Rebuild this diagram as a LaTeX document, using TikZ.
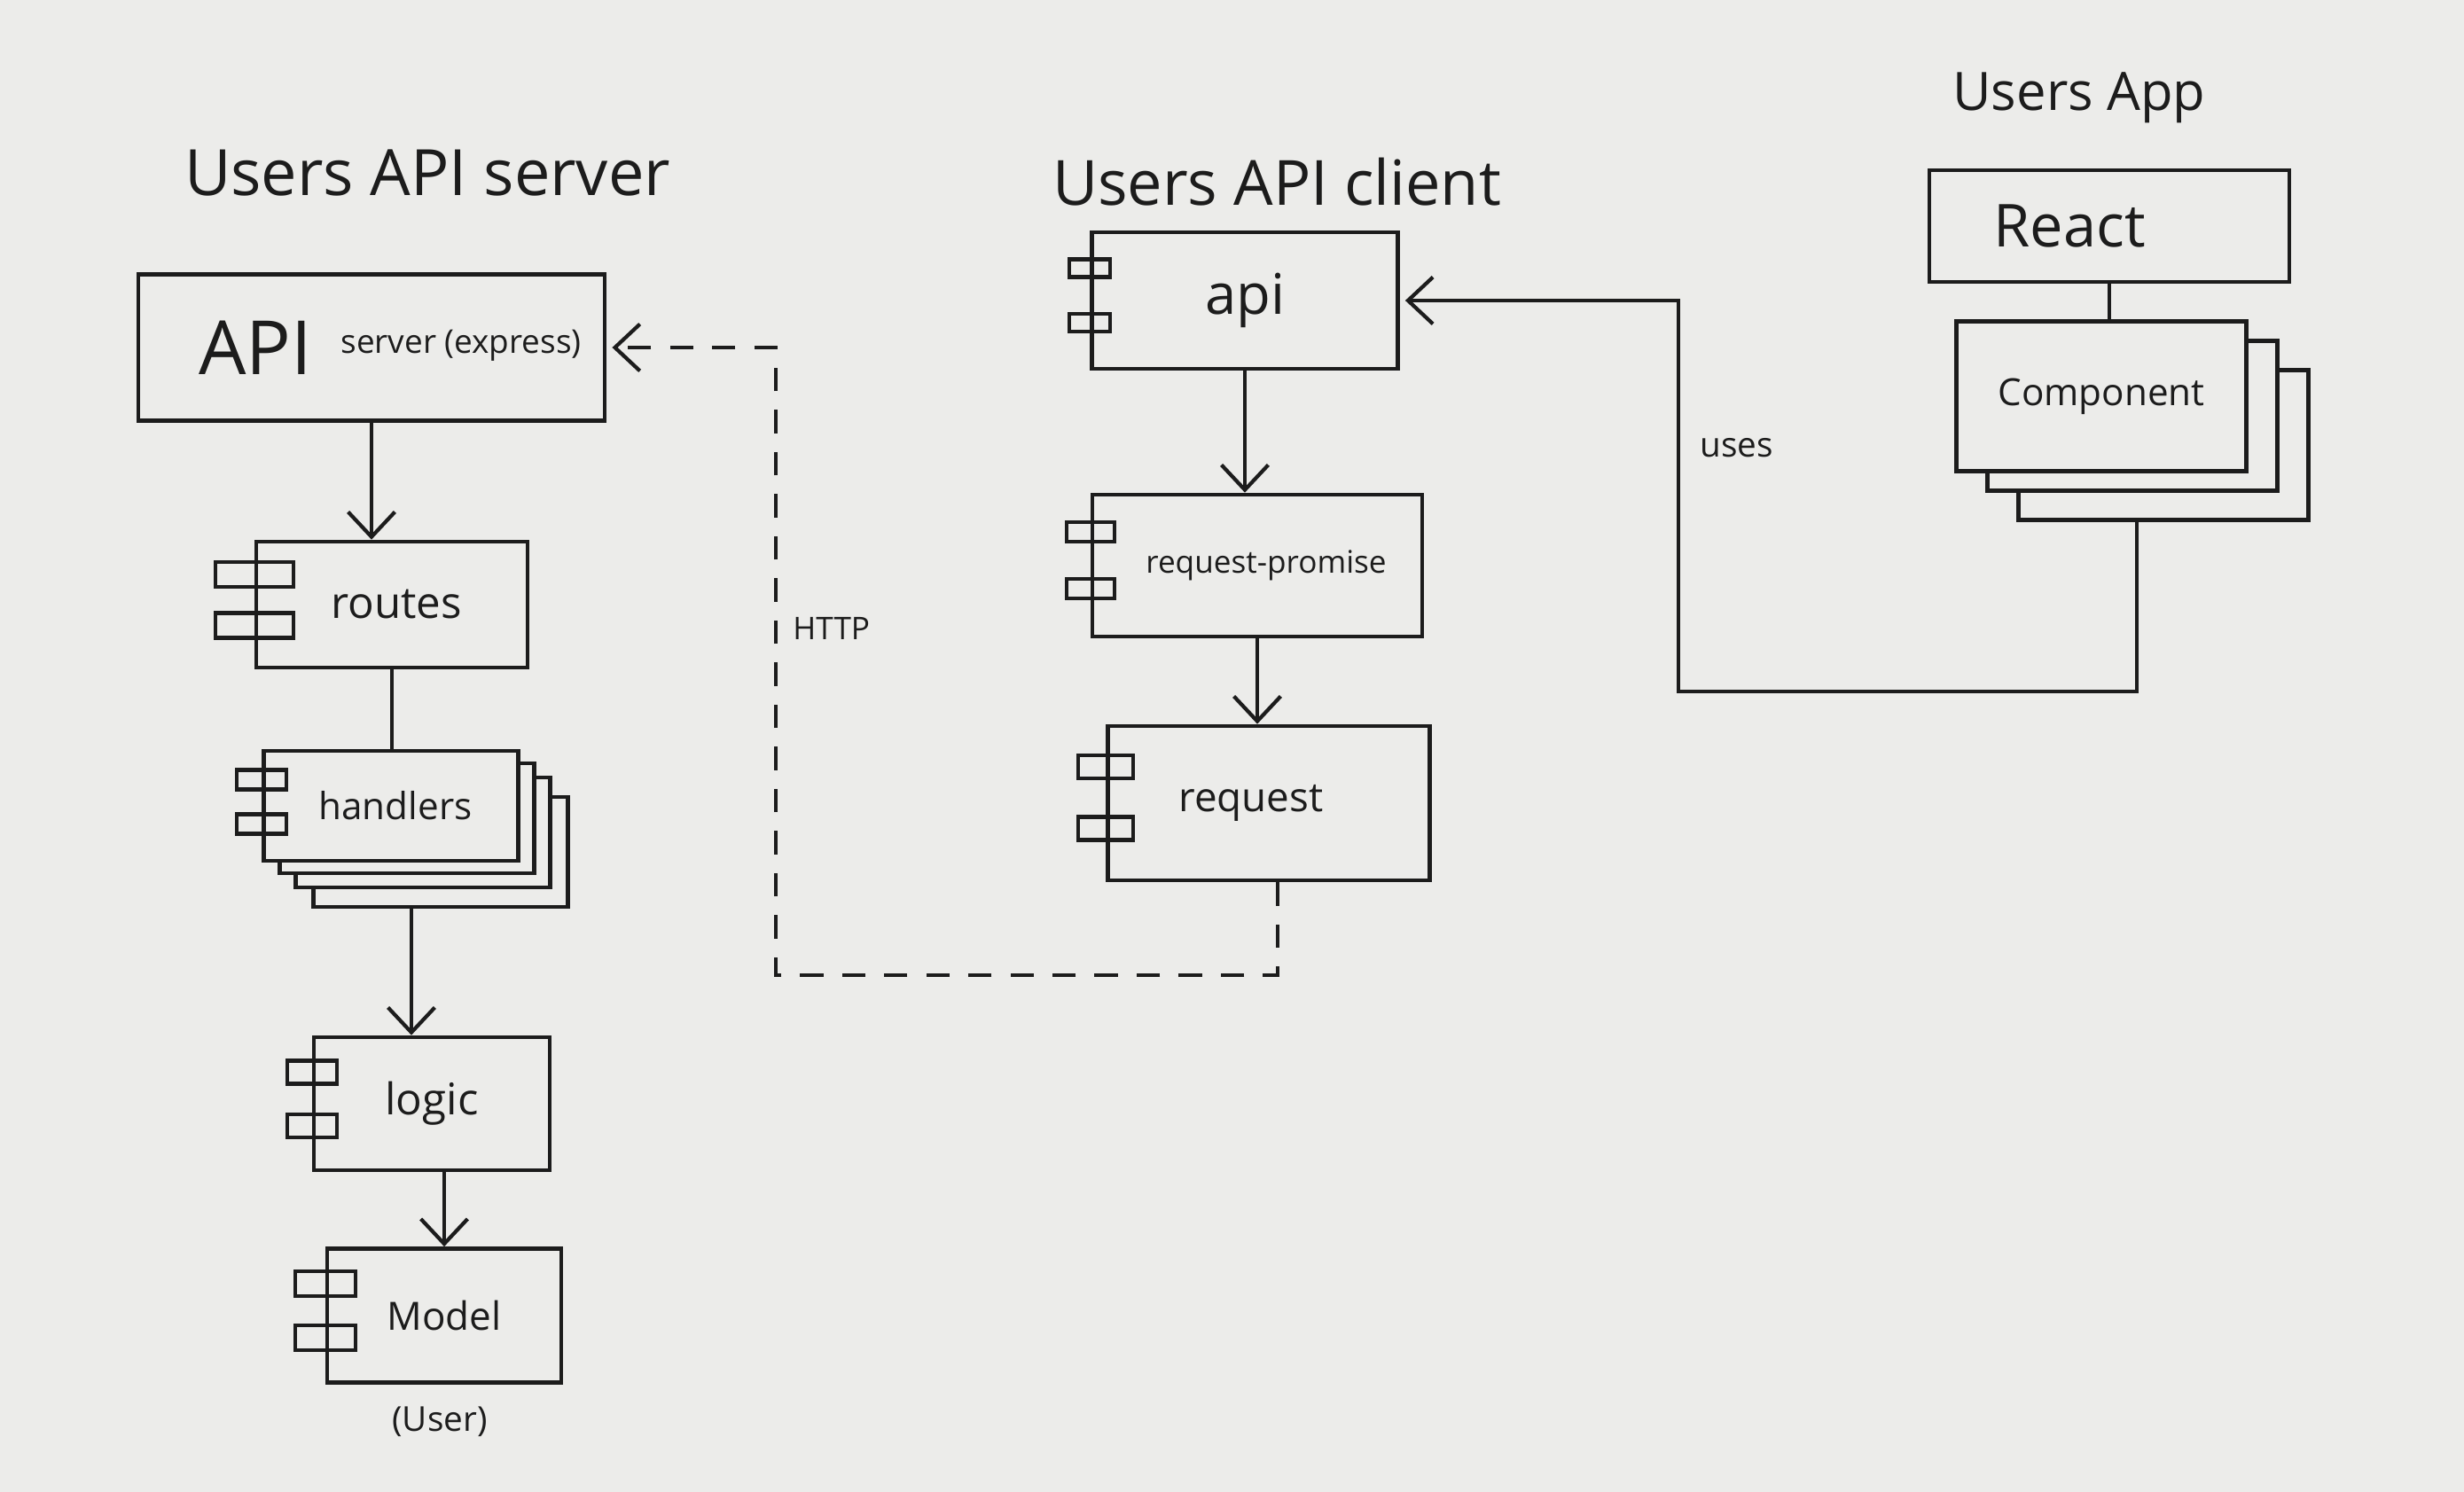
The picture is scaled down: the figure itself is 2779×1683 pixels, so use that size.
\documentclass[tikz,border=0pt]{standalone}
\usepackage{fontspec}
\setmainfont{Open Sans}
\usetikzlibrary{arrows.meta,calc}
\definecolor{board}{RGB}{236,236,234}
\definecolor{ink}{RGB}{28,28,28}
\begin{document}
\begin{tikzpicture}[x=0.01cm,y=-0.01cm,
  box/.style={draw=ink,line width=1.3pt,fill=board,rectangle,inner sep=0pt},
  tab/.style={draw=ink,line width=1.2pt},
  link/.style={draw=ink,line width=1.2pt},
  arr/.style={link,-{Straight Barb[length=8pt,width=15pt]}},
  http/.style={arr,dash pattern=on 7.5pt off 6pt},
  title/.style={text=ink,font=\fontsize{20}{24}\selectfont},
  lbl/.style={text=ink,font=\fontsize{14}{17}\selectfont},
  small/.style={text=ink,font=\fontsize{11}{13}\selectfont}]

% whiteboard
\fill[board] (0,0) rectangle (2779,1683);
\useasboundingbox (0,0) rectangle (2779,1683);

% ---------- Users API server ----------
\node[title,font=\fontsize{20.5}{24}\selectfont] (t1) at (482,195) {Users API server};
\node[box,minimum width=5.26cm,minimum height=1.65cm] (apiserver) at (419,392) {};
\node[text=ink,font=\fontsize{24}{28}\selectfont,anchor=west] (apilbl) at (212,392) {API};
\node[text=ink,font=\fontsize{10.5}{13}\selectfont,anchor=west] (exprlbl) at (372,390) {server (express)};
\node[box,minimum width=3.06cm,minimum height=1.42cm] (routes) at (442,682) {};
\node[lbl] at ([xshift=0.05cm]routes.center) {routes};

% stacked handlers
\node[box,minimum width=2.87cm,minimum height=1.24cm] (handlers3) at (497,961) {};
\node[box,minimum width=2.87cm,minimum height=1.24cm] (handlers2) at (477,939) {};
\node[box,minimum width=2.87cm,minimum height=1.24cm] (handlers1) at (459,923) {};
\node[box,minimum width=2.87cm,minimum height=1.24cm] (handlers) at (441,909) {};
\node[lbl,font=\fontsize{12}{14}\selectfont] at ([xshift=0.05cm]handlers.center) {handlers};

\node[box,minimum width=2.66cm,minimum height=1.5cm] (logic) at (487,1245) {};
\node[lbl] at (logic.center) {logic};
\node[box,minimum width=2.64cm,minimum height=1.51cm] (model) at (501,1484) {};
\node[lbl,font=\fontsize{12.5}{15}\selectfont] at (model.center) {Model};
\node[small] (user) at (496,1604) {(User)};

% ---------- Users API client ----------
\node[title] (t2) at (1440,205) {Users API client};
\node[box,minimum width=3.45cm,minimum height=1.54cm] (api) at (1404,339) {};
\node[lbl,font=\fontsize{18}{21}\selectfont] at (api.center) {api};
\node[box,minimum width=3.72cm,minimum height=1.6cm] (rp) at (1418,638) {};
\node[small,font=\fontsize{10}{12}\selectfont] at ([xshift=0.1cm]rp.center) {request-promise};
\node[box,minimum width=3.63cm,minimum height=1.74cm] (request) at (1431,906) {};
\node[lbl,font=\fontsize{13}{16}\selectfont] at ([xshift=-0.2cm]request.center) {request};

% ---------- Users App ----------
\node[title,font=\fontsize{17}{20}\selectfont] (t3) at (2345,110) {Users App};
\node[box,minimum width=4.06cm,minimum height=1.26cm] (react) at (2379,255) {};
\node[lbl,font=\fontsize{19}{22}\selectfont] at ([xshift=-0.45cm]react.center) {React};
\node[box,minimum width=3.27cm,minimum height=1.69cm] (comp3) at (2440,502) {};
\node[box,minimum width=3.27cm,minimum height=1.69cm] (comp2) at (2405,469) {};
\node[box,minimum width=3.27cm,minimum height=1.69cm] (comp) at (2370,447) {};
\node[lbl,font=\fontsize{12}{14}\selectfont] at (comp.center) {Component};

% component tabs on the left edge
\foreach \n/\tw/\th in {routes/88/28, handlers/56/22, logic/56/26, model/68/28,
                         api/46/20, rp/54/22, request/62/26}{
  \draw[tab] ($(\n.north west)!0.27!(\n.south west)$) +(-\tw/2,-\th/2) rectangle +(\tw/2,\th/2);
  \draw[tab] ($(\n.north west)!0.66!(\n.south west)$) +(-\tw/2,-\th/2) rectangle +(\tw/2,\th/2);
}

% ---------- connectors ----------
\draw[arr] (apiserver.south) -- (apiserver.south |- routes.north);
\draw[link] (routes.south) -- (routes.south |- handlers.north);
\draw[arr] ([xshift=-0.23cm]logic.north |- handlers3.south) -- ([xshift=-0.23cm]logic.north);
\draw[arr] (model.north |- logic.south) -- (model.north);

\draw[arr] (api.south) -- (api.south |- rp.north);
\draw[arr] (rp.south) -- (rp.south |- request.north);
\draw[link] (react.south) -- (react.south |- comp.north);

% HTTP call back to the server
\coordinate (httpcorner) at (875,1100);
\draw[http] ([xshift=0.1cm]request.south) |- (httpcorner) |- ([xshift=0.06cm]apiserver.east);
\node[small,font=\fontsize{10}{12}\selectfont,anchor=west] (httplbl) at (882,709) {HTTP};

% the app uses the client
\coordinate (usescorner) at (1893,780);
\draw[arr] ([xshift=-0.3cm]comp3.south) |- (usescorner) |- ([xshift=0.06cm]api.east);
\node[small,anchor=west] (useslbl) at (1905,505) {uses};
\end{tikzpicture}
\end{document}
